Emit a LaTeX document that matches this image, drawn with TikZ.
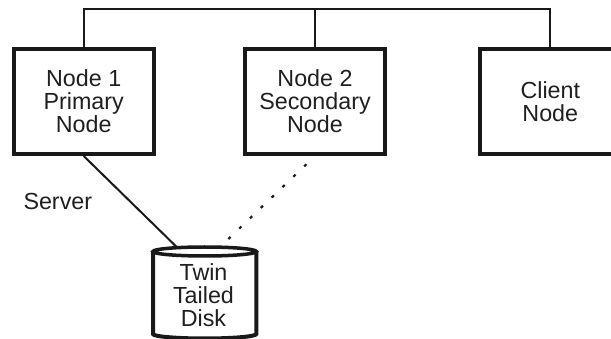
\documentclass[tikz,border=0pt]{standalone}
\usepackage{fontspec}
\setmainfont{Liberation Sans}
\begin{document}
\begin{tikzpicture}[x=1pt,y=-1pt,
  txt/.style={font=\fontsize{23.3}{23.3}\selectfont, text=black!88, align=center, inner sep=0pt},
  nodebox/.style={txt, draw=black!90, line width=4pt, minimum width=140pt, minimum height=105.3pt},
  wire/.style={draw=black!90, line width=2pt},
  dotline/.style={draw=black!90, line width=2.2pt, dash pattern=on 3pt off 12pt, dash phase=3pt},
  diskline/.style={draw=black!90, line width=4pt}
]
\useasboundingbox (0,0) rectangle (611,339);
\node[nodebox] (n1) at (83.7,101.35) {Node 1\\Primary\\Node};
\node[nodebox] (n2) at (315,101.35) {Node 2\\Secondary\\Node};
\node[nodebox] (cl) at (550.3,101.35) {Client\\Node};
\coordinate (bus) at (0,9.3);
\draw[wire] (n1.north) -- (n1.north |- bus) -- (cl.north |- bus) -- (cl.north);
\draw[wire] (n2.north) -- (n2.north |- bus);
% disk
\node[txt, minimum width=103pt, minimum height=83pt] (disk) at (203.5,295) {Twin\\Tailed\\Disk};
\draw[diskline] (153,251.5) -- (153,334) arc[start angle=180, end angle=360, x radius=51.65pt, y radius=4.5pt] -- (256.3,251.5);
\draw[draw=black!90, line width=3.5pt, fill=white] (204.65,251.5) ellipse[x radius=51.65pt, y radius=4.5pt];
\coordinate (dA) at (177,247.3);
\coordinate (dB) at (220,247);
\draw[wire] (n1.south) -- (dA);
\draw[dotline] (n2.south) -- (dB);
\node[txt, anchor=base west] (srv) at (23.3,210) {Server};
\end{tikzpicture}
\end{document}
